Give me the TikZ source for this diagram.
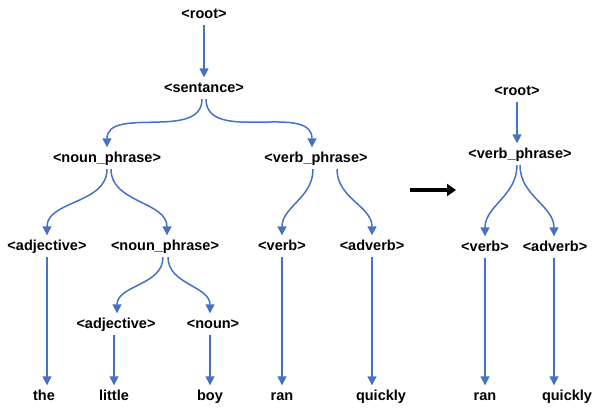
\documentclass[tikz,border=0pt]{standalone}
\usepackage{fontspec}
\setmainfont{Liberation Sans}
\usetikzlibrary{arrows.meta}
\definecolor{treeblue}{HTML}{4472C4}
\tikzset{
  tag/.style={font=\fontsize{14.5}{17}\selectfont\bfseries, text height=10.5pt,
    text depth=3pt, inner xsep=0pt, inner ysep=4pt, anchor=base},
  link/.style={treeblue, line width=1.5pt, -{Triangle[width=9pt,length=9pt]}},
  bigarrow/.style={black, line width=4pt, -{Triangle[width=12pt,length=9pt]}},
}

\begin{document}
\begin{tikzpicture}[x=1pt,y=-1pt]
  \useasboundingbox (0,0) rectangle (592,408);

  \node[tag] (root) at (204,18) {<root>};
  \node[tag] (sent) at (204,92) {<sentance>};
  \node[tag] (np1) at (107,162) {<noun\_phrase>};
  \node[tag] (vp) at (316,162) {<verb\_phrase>};
  \node[tag] (adj1) at (47,250) {<adjective>};
  \node[tag] (np2) at (165,250) {<noun\_phrase>};
  \node[tag] (verb) at (282,250) {<verb>};
  \node[tag] (adv) at (372,250) {<adverb>};
  \node[tag] (adj2) at (116,328) {<adjective>};
  \node[tag] (noun) at (213,328) {<noun>};
  \node[tag] (the) at (44,400) {the};
  \node[tag] (little) at (114,400) {little};
  \node[tag] (boy) at (210,400) {boy};
  \node[tag] (ran) at (282,400) {ran};
  \node[tag] (quick) at (381,400) {quickly};

  \node[tag] (root2) at (517,95) {<root>};
  \node[tag] (vp2) at (520,158) {<verb\_phrase>};
  \node[tag] (verb2) at (485,251) {<verb>};
  \node[tag] (adv2) at (555,251) {<adverb>};
  \node[tag] (ran2) at (485,400) {ran};
  \node[tag] (quick2) at (567,400) {quickly};

  \coordinate (from) at (410,190);
  \coordinate (to) at (456,190);

  \draw[link] (root.south) -- (root.south |- sent.north);
  \draw[link] ([xshift=-2pt]sent.south) to[out=-90,in=90] (np1.north);
  \draw[link] ([xshift=2pt]sent.south) to[out=-90,in=90] ([xshift=-4pt]vp.north);
  \draw[link] (np1.south) to[out=-90,in=90] (adj1.north);
  \draw[link] ([xshift=4pt]np1.south) to[out=-90,in=90] ([xshift=2pt]np2.north);
  \draw[link] ([xshift=-2pt]np2.south) to[out=-90,in=90] ([xshift=1pt]adj2.north);
  \draw[link] ([xshift=3pt]np2.south) to[out=-90,in=90] ([xshift=-3pt]noun.north);
  \draw[link] ([xshift=-3pt]vp.south) to[out=-90,in=90] (verb.north);
  \draw[link] ([xshift=21pt]vp.south) to[out=-90,in=90] (adv.north);
  \draw[link] (adj1.south) -- (adj1.south |- the.north);
  \draw[link] ([xshift=-2pt]adj2.south) -- ([xshift=-2pt]adj2.south |- little.north);
  \draw[link] ([xshift=-3pt]noun.south) -- ([xshift=-3pt]noun.south |- boy.north);
  \draw[link] (verb.south) -- (verb.south |- ran.north);
  \draw[link] (adv.south) -- (adv.south |- quick.north);

  \draw[bigarrow] (from) -- (to);

  \draw[link] (root2.south) -- (root2.south |- vp2.north);
  \draw[link] ([xshift=-3pt]vp2.south) to[out=-90,in=90] (verb2.north);
  \draw[link] (vp2.south) to[out=-90,in=90] ([xshift=-1pt]adv2.north);
  \draw[link] (verb2.south) -- (verb2.south |- ran2.north);
  \draw[link] ([xshift=-1pt]adv2.south) -- ([xshift=-1pt]adv2.south |- quick2.north);
\end{tikzpicture}
\end{document}
